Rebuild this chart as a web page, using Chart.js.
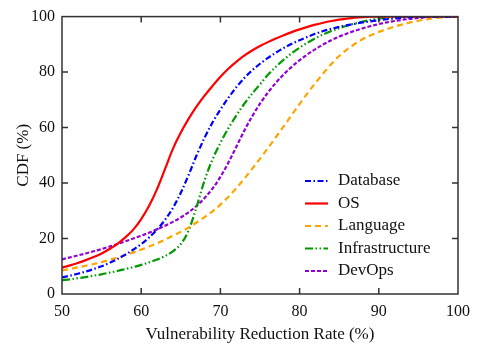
<!DOCTYPE html>
<html>
<head>
<meta charset="utf-8">
<script src="https://cdn.jsdelivr.net/npm/chart.js@4"></script>
<style>
  html, body { margin: 0; padding: 0; background: #fff; }
  #wrap { width: 479px; height: 347px; }
</style>
</head>
<body>
<div id="wrap"><canvas id="cdfChart" width="479" height="347"></canvas></div>
<script>
// данные
const seriesNames = ['Database', 'OS', 'Language', 'Infrastructure', 'DevOps'];
const xValues = [50, 51, 52, 53, 54, 55, 56, 57, 58, 59, 60, 61, 62, 63, 64, 65, 66, 67, 68, 69,
    70, 71, 72, 73, 74, 75, 76, 77, 78, 79, 80, 81, 82, 83, 84, 85, 86, 87, 88, 89,
    90, 91, 92, 93, 94, 95, 96, 97, 98, 99, 100];
const databaseCdf = [6, 6.6, 7.3, 8.1, 9, 10, 11.2, 12.6, 14.2, 16, 18, 20.4, 23.2, 26.7, 31, 36.5, 43, 50, 56.3, 61.8,
    66.5, 70.7, 74.5, 77.8, 80.6, 83, 85.1, 87, 88.7, 90.2, 91.5, 92.7, 93.8, 94.8, 95.6, 96.3, 96.9, 97.4, 97.9, 98.3,
    98.7, 99.05, 99.35, 99.6, 99.8, 99.92, 100, 100, 100, 100, 100];
const osCdf = [9.5, 10.3, 11.2, 12.2, 13.3, 14.6, 16.2, 18.1, 20.4, 23.2, 27, 31.8, 37.8, 45, 52.3, 58.2, 63.2, 67.6, 71.5, 75,
    78.3, 81.2, 83.7, 85.9, 87.8, 89.4, 90.8, 92.1, 93.3, 94.4, 95.4, 96.3, 97.1, 97.8, 98.4, 98.9, 99.3, 99.6, 99.8, 99.95,
    100, 100, 100, 100, 100, 100, 100, 100, 100, 100, 100];
const languageCdf = [8.5, 9, 9.6, 10.2, 10.8, 11.5, 12.3, 13.1, 14, 15, 16, 17.1, 18.3, 19.6, 21, 22.4, 24, 25.8, 27.7, 29.8,
    32.2, 35, 38.1, 41.5, 45.1, 48.8, 52.6, 56.5, 60.5, 64.5, 68.5, 72.4, 76.1, 79.6, 82.9, 85.8, 88.2, 90.2, 91.9, 93.3,
    94.5, 95.5, 96.4, 97.2, 97.9, 98.5, 99, 99.4, 99.7, 99.9, 100];
const infraCdf = [5, 5.3, 5.7, 6.1, 6.6, 7.1, 7.7, 8.3, 9, 9.7, 10.5, 11.4, 12.4, 13.7, 15.4, 18, 23, 31.5, 41, 48.5,
    54.5, 59.7, 64.3, 68.5, 72.2, 75.6, 79, 81.9, 84.5, 86.8, 88.8, 90.6, 92.2, 93.6, 94.8, 95.8, 96.7, 97.5, 98.2, 98.8,
    99.3, 99.6, 99.85, 100, 100, 100, 100, 100, 100, 100, 100];
const devopsCdf = [12.5, 13.2, 13.9, 14.6, 15.4, 16.2, 17.1, 18, 19, 20, 21, 22.1, 23.3, 24.6, 26, 27.6, 29.5, 31.8, 34.6, 38,
    42.2, 47.3, 53, 58.8, 64, 68.6, 72.6, 76.1, 79.2, 81.9, 84.3, 86.4, 88.3, 90, 91.5, 92.8, 93.9, 94.9, 95.8, 96.6,
    97.3, 97.9, 98.4, 98.85, 99.2, 99.5, 99.75, 99.9, 100, 100, 100];
const xTicks = [50, 60, 70, 80, 90, 100];
const yTicks = [0, 20, 40, 60, 80, 100];

const seriesValues = [databaseCdf, osCdf, languageCdf, infraCdf, devopsCdf];
const seriesColors = ['#0000ff', '#ff0000', '#ffa500', '#009900', '#9400d3'];
const seriesDash = [[6, 2.5, 1.5, 2.5], [], [6, 4], [8, 2.5, 1.5, 2.5, 1.5, 2.5], [4, 2]];

const serif = "'Liberation Serif', 'DejaVu Serif', serif";

// рамка, засечки внутрь и легенда
const framePlugin = {
    id: 'frameTicks',
    afterDatasetsDraw(chart) {
        const { ctx, chartArea: a, scales } = chart;
        ctx.save();
        ctx.strokeStyle = '#333';
        ctx.lineWidth = 1.5;
        ctx.setLineDash([]);
        ctx.strokeRect(a.left, a.top, a.right - a.left, a.bottom - a.top);
        const len = 6;
        ctx.beginPath();
        xTicks.slice(1, -1).forEach(v => {
            const px = scales.x.getPixelForValue(v);
            ctx.moveTo(px, a.bottom); ctx.lineTo(px, a.bottom - len);
            ctx.moveTo(px, a.top); ctx.lineTo(px, a.top + len);
        });
        yTicks.slice(1, -1).forEach(v => {
            const py = scales.y.getPixelForValue(v);
            ctx.moveTo(a.left, py); ctx.lineTo(a.left + len, py);
            ctx.moveTo(a.right, py); ctx.lineTo(a.right - len, py);
        });
        ctx.stroke();

        const x0 = 305, x1 = 328, tx = 338;
        let y = 181;
        ctx.font = '17px ' + serif;
        ctx.textBaseline = 'middle';
        ctx.fillStyle = '#111';
        chart.data.datasets.forEach(ds => {
            ctx.beginPath();
            ctx.strokeStyle = ds.borderColor;
            ctx.lineWidth = 2.2;
            ctx.setLineDash(ds.borderDash);
            ctx.moveTo(x0, y); ctx.lineTo(x1, y);
            ctx.stroke();
            ctx.setLineDash([]);
            ctx.fillText(ds.label, tx, y);
            y += 22.5;
        });
        ctx.restore();
    }
};

const ctx = document.getElementById('cdfChart').getContext('2d');
const cdfChart = new Chart(ctx, {
    type: 'line',
    data: {
        datasets: seriesNames.map((name, i) => ({
            label: name,
            data: xValues.map((x, j) => ({ x: x, y: seriesValues[i][j] })),
            borderColor: seriesColors[i],
            borderDash: seriesDash[i],
            borderWidth: 2.2,
            pointRadius: 0,
            fill: false,
            cubicInterpolationMode: 'monotone'
        }))
    },
    options: {
        responsive: false,
        animation: false,
        layout: { padding: { top: 11, right: 21, left: 0, bottom: 0 } },
        plugins: {
            legend: { display: false },
            tooltip: { enabled: false }
        },
        scales: {
            x: {
                type: 'linear',
                min: 50,
                max: 100,
                afterBuildTicks: s => { s.ticks = xTicks.map(v => ({ value: v })); },
                afterFit: s => { s.height = 53; },
                grid: { display: false, drawTicks: false },
                border: { display: false },
                ticks: { color: '#111', padding: 8, maxRotation: 0, font: { family: serif, size: 16 } },
                title: {
                    display: true,
                    text: 'Vulnerability Reduction Rate (%)',
                    color: '#111',
                    padding: { top: 4, bottom: 2 },
                    font: { family: serif, size: 17 }
                }
            },
            y: {
                min: 0,
                max: 100,
                afterBuildTicks: s => { s.ticks = yTicks.map(v => ({ value: v })); },
                afterFit: s => { s.width = 62; },
                grid: { display: false, drawTicks: false },
                border: { display: false },
                ticks: { color: '#111', padding: 7, font: { family: serif, size: 16 } },
                title: {
                    display: true,
                    text: 'CDF (%)',
                    color: '#111',
                    padding: { top: 13, bottom: 0 },
                    font: { family: serif, size: 17 }
                }
            }
        }
    },
    plugins: [framePlugin]
});
</script>
</body>
</html>
